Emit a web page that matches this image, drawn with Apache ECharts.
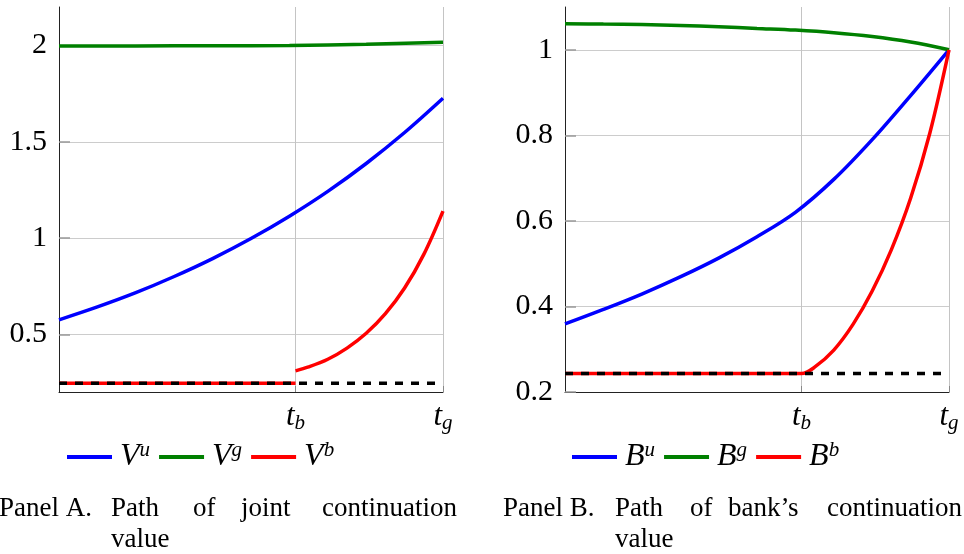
<!DOCTYPE html>
<html><head><meta charset="utf-8">
<script src="https://cdn.jsdelivr.net/npm/echarts@6/dist/echarts.min.js"></script>
<style>html,body{margin:0;padding:0;background:#fff}#c{width:964px;height:554px}</style>
</head><body><div id="c"></div>
<script>
// x runs from 0 (start) to 1 (t_g)
const xTickValues = [0.616, 1];
const xTickSubs = ['b', 'g'];
const yTicksA = [0.5, 1, 1.5, 2];
const yTicksB = [0.2, 0.4, 0.6, 0.8, 1];

// Panel A
const tVu = [0, 0.1, 0.2, 0.3, 0.4, 0.5, 0.6, 0.7, 0.8, 0.9, 1];
const Vu  = [0.575, 0.642, 0.716, 0.8, 0.893, 0.997, 1.113, 1.242, 1.387, 1.548, 1.726];
const tVg = [0, 0.2, 0.4, 0.6, 0.8, 1];
const Vg  = [1.997, 1.998, 1.999, 2.0, 2.006, 2.017];
const tVbLow = [0, 0.616];
const VbLow  = [0.245, 0.245];
const tVbHigh = [0.616, 0.65, 0.7, 0.75, 0.8, 0.85, 0.9, 0.95, 1];
const VbHigh  = [0.31, 0.33, 0.37, 0.428, 0.505, 0.607, 0.74, 0.915, 1.14];
const tFloorA = [0, 1];
const floorA  = [0.245, 0.245];

// Panel B
const tBu = [0, 0.1, 0.2, 0.3, 0.4, 0.5, 0.6, 0.7, 0.8, 0.9, 1];
const Bu  = [0.359, 0.393, 0.429, 0.469, 0.513, 0.563, 0.62, 0.697, 0.79, 0.893, 1.0];
const tBg = [0, 0.1, 0.2, 0.3, 0.4, 0.5, 0.6, 0.7, 0.8, 0.9, 1];
const Bg  = [1.061, 1.060, 1.059, 1.057, 1.054, 1.05, 1.046, 1.04, 1.031, 1.018, 1.0];
const tBb = [0, 0.2, 0.4, 0.616, 0.65, 0.7, 0.75, 0.8, 0.85, 0.9, 0.95, 1];
const Bb  = [0.243, 0.243, 0.243, 0.243, 0.258, 0.298, 0.358, 0.436, 0.533, 0.653, 0.805, 1.0];
const tFloorB = [0, 1];
const floorB  = [0.243, 0.243];

const zip = (xs, ys) => xs.map((x, i) => [x, ys[i]]);
const FONT = 'Liberation Serif';
const BLUE = '#0000ff', GREEN = '#008000', RED = '#ff0000';
const LW = 3.5;

function xAxis(gi) {
  return {
    type: 'value', gridIndex: gi, min: 0, max: 1,
    axisLine: { show: true, lineStyle: { color: '#222', width: 1 } },
    axisTick: { show: true, inside: true, length: 6, customValues: xTickValues, lineStyle: { color: '#888' } },
    axisLabel: {
      customValues: xTickValues, margin: 8,
      formatter: v => '{t|t}{s|' + xTickSubs[xTickValues.indexOf(v)] + '}',
      rich: {
        t: { fontFamily: FONT, fontStyle: 'italic', fontSize: 31, lineHeight: 34, color: '#000' },
        s: { fontFamily: FONT, fontStyle: 'italic', fontSize: 21, lineHeight: 20, verticalAlign: 'bottom', color: '#000' }
      }
    },
    splitLine: { show: true, lineStyle: { color: '#c4c4c4', width: 1 } }
  };
}
function yAxis(gi, min, max, ticks) {
  return {
    type: 'value', gridIndex: gi, min: min, max: max,
    axisLine: { show: true, lineStyle: { color: '#222', width: 1 } },
    axisTick: { show: true, inside: true, length: 11, customValues: ticks, lineStyle: { color: '#999', width: 1.5 } },
    axisLabel: { customValues: ticks, margin: 12, fontFamily: FONT, fontSize: 30, color: '#000' },
    splitLine: { show: true, lineStyle: { color: '#cccccc', width: 1 } }
  };
}
function line(name, gi, data, color, extra) {
  return Object.assign({
    type: 'line', name: name, xAxisIndex: gi, yAxisIndex: gi, data: data,
    showSymbol: false, symbol: 'none', smooth: 0.35, connectNulls: false,
    lineStyle: { color: color, width: LW }, itemStyle: { color: color }
  }, extra || {});
}
const legendRich = {
  b: { fontFamily: FONT, fontStyle: 'italic', fontSize: 32, lineHeight: 34, color: '#000', padding: [0, 0, 0, 3] },
  s: { fontFamily: FONT, fontStyle: 'italic', fontSize: 21, lineHeight: 20, verticalAlign: 'top', color: '#000' }
};
function legend(left, names) {
  return {
    left: left, top: 440, padding: 0, orient: 'horizontal', data: names, selectedMode: false,
    icon: 'rect', itemWidth: 45, itemHeight: 4, itemGap: 9,
    formatter: n => { const p = n.split('^'); return '{b|' + p[0] + '}{s|' + p[1] + '}'; },
    textStyle: { rich: legendRich }
  };
}
function word(x, y, text) {
  return { type: 'text', left: x, top: y, style: { text: text, font: '27px "Liberation Serif"', fill: '#000' } };
}

const chart = echarts.init(document.getElementById('c'), null, { renderer: 'canvas' });
chart.setOption({
  animation: false,
  backgroundColor: '#fff',
  grid: [
    { left: 59, top: 7, width: 384, height: 385 },
    { left: 565, top: 7, width: 384, height: 385 }
  ],
  xAxis: [xAxis(0), xAxis(1)],
  yAxis: [yAxis(0, 0.2, 2.2, yTicksA), yAxis(1, 0.2, 1.1, yTicksB)],
  legend: [legend(67, ['V^u', 'V^g', 'V^b']), legend(572, ['B^u', 'B^g', 'B^b'])],
  series: [
    line('V^u', 0, zip(tVu, Vu), BLUE),
    line('V^g', 0, zip(tVg, Vg), GREEN),
    line('V^b', 0, zip(tVbLow, VbLow).concat([[0.616, '-']], zip(tVbHigh, VbHigh)), RED),
    line('floorA', 0, zip(tFloorA, floorA), '#000', { smooth: false, lineStyle: { color: '#000', width: LW, type: [8, 8] } }),
    line('B^u', 1, zip(tBu, Bu), BLUE),
    line('B^g', 1, zip(tBg, Bg), GREEN),
    line('B^b', 1, zip(tBb, Bb), RED),
    line('floorB', 1, zip(tFloorB, floorB), '#000', { smooth: false, lineStyle: { color: '#000', width: LW, type: [8, 8] } })
  ],
  graphic: [
    word(-1, 495, 'Panel A.'), word(111, 495, 'Path'), word(193, 495, 'of'), word(241, 495, 'joint'), word(322, 495, 'continuation'),
    word(111, 526, 'value'),
    word(503, 495, 'Panel B.'), word(615, 495, 'Path'), word(690, 495, 'of'), word(728, 495, 'bank\u2019s'), word(827, 495, 'continuation'),
    word(615, 526, 'value')
  ]
});
</script></body></html>
